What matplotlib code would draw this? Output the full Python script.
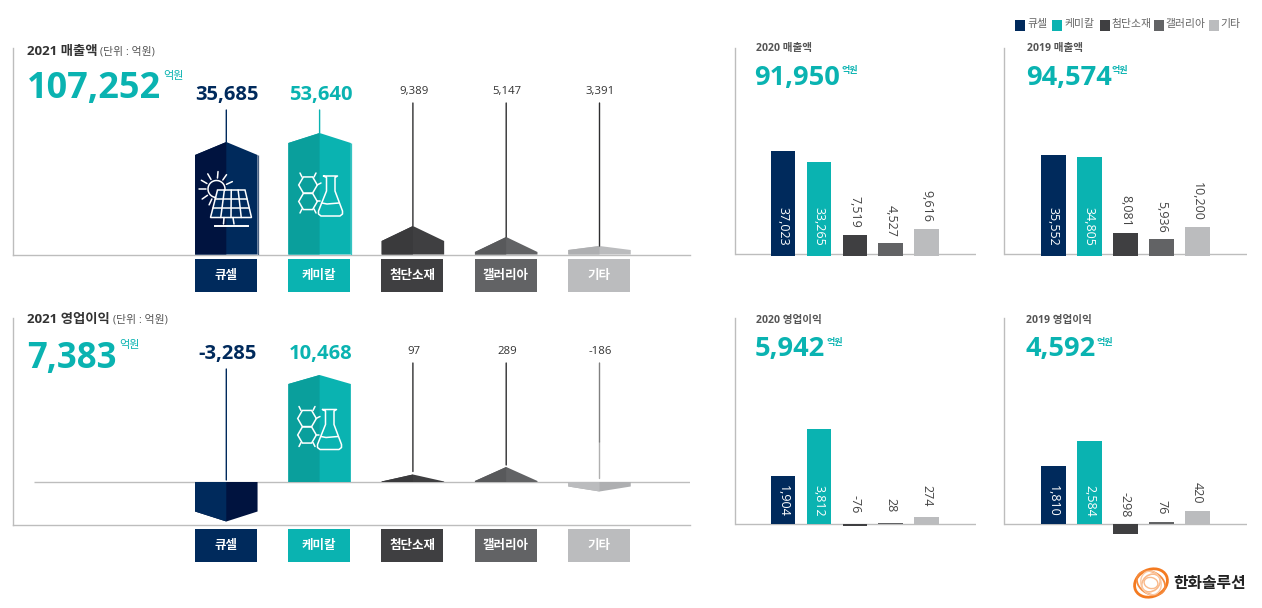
import numpy as np
import matplotlib
matplotlib.use('Agg')
from matplotlib import pyplot as plt
from matplotlib.patches import Ellipse, Rectangle, RegularPolygon

plt.rcParams['font.family'] = ['Open Sans', 'Noto Sans CJK KR', 'DejaVu Sans']

W, H = 1262, 608

categories = ['큐셀', '케미칼', '첨단소재', '갤러리아', '기타']

sales_2021 = [35685, 53640, 9389, 5147, 3391]
profit_2021 = [-3285, 10468, 97, 289, -186]
sales_2020 = [37023, 33265, 7519, 4527, 9616]
sales_2019 = [35552, 34805, 8081, 5936, 10200]
profit_2020 = [1904, 3812, -76, 28, 274]
profit_2019 = [1810, 2584, -298, 76, 420]

total_sales = ['107,252', '91,950', '94,574']
total_profit = ['7,383', '5,942', '4,592']

# the big 2021 columns are not linear, so their y axes use these breakpoints
sales_knots = [0, 3391, 5147, 9389, 35685, 53640, 120000]
sales_knot_px = [0, 8.5, 17.5, 28.5, 112.5, 121.5, 206.5]
profit_knots = [-5000, -3285, -186, 0, 97, 289, 10468, 20000]
profit_knot_px = [-42.5, -39.5, -9.5, 0, 7.5, 15, 107, 164]

NAVY, TEAL, DARK, GRAY, LIGHT = '#002a5c', '#0ab3b1', '#3f3f41', '#626365', '#bbbcbe'
colors = [NAVY, TEAL, DARK, GRAY, LIGHT]
shades = ['#00133f', '#0a9f9c', '#3a3a3c', '#58595b', '#aeafb1']
LINE = '#bdbdbd'
TEXT = '#333333'


def make_axes(left, right, top, bottom):
    ax = fig.add_axes([left / W, 1 - bottom / H, (right - left) / W, (bottom - top) / H])
    ax.patch.set_alpha(0)
    ax.set_xticks([])
    ax.set_yticks([])
    for side in ['top', 'right']:
        ax.spines[side].set_visible(False)
    for side in ['left', 'bottom']:
        ax.spines[side].set_color(LINE)
        ax.spines[side].set_linewidth(1.0)
    return ax


def big_panel(top, bottom, values, knots, knot_px, caps):
    ax = make_axes(12.5, 690, top, bottom)
    fwd = lambda v: np.interp(v, knots, knot_px)
    inv = lambda p: np.interp(p, knot_px, knots)
    ax.set_yscale('function', functions=(fwd, inv))
    ax.set_ylim(knots[0], knots[-1])
    ax.set_xlim((12.5 - 226.3) / 93.3, (690 - 226.3) / 93.3)
    ax.set_xticks([])
    ax.set_yticks([])
    ax.minorticks_off()
    half = 0.335
    for i, v in enumerate(values):
        sign = 1 if v > 0 else -1
        shoulder = inv(fwd(v) - sign * caps[i])
        c_left, c_right = (shades[i], colors[i]) if v > 0 else (colors[i], shades[i])
        # whole column first, then the left half on top so no seam shows
        ax.fill([i - half, i - half, i, i + half, i + half], [0, shoulder, v, shoulder, 0],
                color=c_right, lw=0, zorder=3)
        ax.fill([i - half, i - half, i, i], [0, shoulder, v, 0], color=c_left, lw=0, zorder=3)
    return ax, fwd, inv, half


def leader(ax, i, end, label_px, top, bottom, color):
    ax.annotate('', xy=(i, end), xycoords='data',
                xytext=(i, (bottom - label_px) / (bottom - top)),
                textcoords=('data', 'axes fraction'),
                arrowprops=dict(arrowstyle='-', color=color, lw=1.0, shrinkA=0, shrinkB=0),
                zorder=4)


def small_panel(left, right, top, bottom, center, step, values, ymin, ymax, line_y, gap, inside):
    ax = make_axes(left, right, top, bottom)
    ax.spines['bottom'].set_visible(False)
    ax.set_xlim((left - center) / step, (right - center) / step)
    ax.set_ylim(ymin, ymax)
    ax.spines['left'].set_bounds(line_y, ymax)
    ax.hlines(line_y, *ax.get_xlim(), color=LINE, lw=1.0, zorder=1)
    x = np.arange(len(values))
    ax.bar(x, values, width=0.68, color=colors, zorder=2)
    for i, v in enumerate(values):
        if i < 2:
            ax.annotate(f'{v:,}', xy=(i, 0), xytext=(0, inside), textcoords='offset pixels',
                        rotation=270, ha='center', va='bottom', color='white', fontsize=9,
                        fontweight='medium', zorder=5)
        else:
            ax.annotate(f'{v:,}', xy=(i, max(v, 0)), xytext=(0, gap), textcoords='offset pixels',
                        rotation=270, ha='center', va='bottom', color='#444444', fontsize=9, zorder=5)
    return ax


def solar_icon(ov, dx=0, dy=0):
    kw = dict(color='white', lw=1.1, solid_capstyle='round', zorder=12)
    sun_x, sun_y = 216.5 + dx, 189 + dy
    t = np.radians(np.linspace(-10, 265, 40))
    ov.plot(sun_x + 8.5 * np.cos(t), sun_y - 8.5 * np.sin(t), **kw)
    for a in [25, 55, 85, 120, 150, 180, 215, 245]:
        r = np.radians(a)
        ov.plot([sun_x + 11 * np.cos(r), sun_x + 17.5 * np.cos(r)],
                [sun_y - 11 * np.sin(r), sun_y - 17.5 * np.sin(r)], **kw)
    # panel frame
    ty, by = 190 + dy, 217.5 + dy
    tl, tr, bl, br = 217.5 + dx, 245 + dx, 210.5 + dx, 251.5 + dx
    ov.fill([tl, tr, br, bl], [ty, ty, by, by], facecolor=NAVY, edgecolor='white', lw=1.1, zorder=11)
    for f in [0.25, 0.5, 0.75]:
        ov.plot([tl + (tr - tl) * f, bl + (br - bl) * f], [ty, by], **kw)
    for f in [1 / 3, 2 / 3]:
        y = ty + (by - ty) * f
        ov.plot([tl + (bl - tl) * f, tr + (br - tr) * f], [y, y], **kw)
    ov.plot([224 + dx, 223.5 + dx], [by, 224 + dy], **kw)
    ov.plot([233 + dx, 234 + dx], [by, 224 + dy], **kw)
    ov.plot([215 + dx, 248 + dx], [225.5 + dy, 225.5 + dy], color='white', lw=1.4, zorder=12)


def chem_icon(ov, dx=0, dy=0):
    kw = dict(color='white', lw=1.1, zorder=12, solid_capstyle='round')
    for cy in [185, 201.5]:
        ov.add_patch(RegularPolygon((308 + dx, cy + dy), 6, radius=9.3, orientation=np.pi / 2,
                                    fill=False, edgecolor='white', lw=1.1, zorder=12))
    for x0, y0, x1, y1 in [(302, 177, 300, 173), (314, 177, 316, 173), (317, 185, 321, 183),
                           (302, 209, 300, 213), (314, 209, 316, 213), (317, 201, 320, 201)]:
        ov.plot([x0 + dx, x1 + dx], [y0 + dy, y1 + dy], **kw)
    # flask outline
    fx = np.array([323.5, 337.5, 335, 335, 342.5, 342.5, 340, 321, 318.5, 318.5, 326.5, 326.5, 323.5]) + dx
    fy = np.array([176, 176, 177.5, 191, 211, 214, 216, 216, 214, 211, 191, 177.5, 176]) + dy
    ov.plot(fx, fy, **kw)
    ov.plot(np.array([322, 327, 333, 339]) + dx, np.array([203, 204, 203.5, 203]) + dy, **kw)


fig = plt.figure(figsize=(W / 100, H / 100), dpi=100, facecolor='white')

# 2021 sales
caps = [13, 10, 15, 15, 4]
ax, fwd, inv, half = big_panel(48, 254.5, sales_2021, sales_knots, sales_knot_px, caps)
for i, v in enumerate(sales_2021):
    leader(ax, i, v, 110 if i < 2 else 103, 48, 254.5, colors[i] if i < 2 else '#2e2e30')
ax.vlines(0 + half, 0, inv(fwd(sales_2021[0]) - caps[0]), color='#4a6080', lw=0.9, zorder=4)
ax.vlines(1 + half, 0, inv(fwd(sales_2021[1]) - caps[1]), color='#35c4c2', lw=0.9, zorder=4)

# 2021 operating profit
caps = [10, 9, 7, 14, 5]
ax, fwd, inv, half = big_panel(318, 524.5, profit_2021, profit_knots, profit_knot_px, caps)
ax.hlines(0, (34 - 226.3) / 93.3, ax.get_xlim()[1], color=LINE, lw=1.0, zorder=2)
leader(ax, 0, inv(2), 369, 318, 524.5, NAVY)
leader(ax, 2, inv(fwd(profit_2021[2]) + 3), 363, 318, 524.5, '#2e2e30')
leader(ax, 3, inv(fwd(profit_2021[3]) + 2), 363, 318, 524.5, '#2e2e30')
leader(ax, 4, inv(3.5), 442, 318, 524.5, '#b0b0b0')
leader(ax, 4, inv(40), 363, 318, 524.5, '#808080')

# prior years
small_panel(734.5, 975.5, 48, 256, 783, 35.9, sales_2020, 0, 73240, 600, 6.5, 10)
small_panel(1004.4, 1247, 48, 256, 1053.5, 36, sales_2019, 0, 73240, 600, 6.5, 10)
small_panel(734.5, 975.5, 318, 536, 783, 35.9, profit_2020, -480, 8252, 0, 11, 7)
small_panel(1004.4, 1247, 318, 536, 1053.5, 36, profit_2019, -373, 6407, 0, 7, 7)

# everything else sits on an overlay measured in pixels from the top left
ov = fig.add_axes([0, 0, 1, 1], zorder=10)
ov.set_xlim(0, W)
ov.set_ylim(H, 0)
ov.axis('off')
ov.patch.set_alpha(0)

# panel headings
ov.text(27, 51, '2021 매출액', fontsize=9.6, fontweight='bold', color=TEXT, va='center')
ov.text(100, 52, '(단위 : 억원)', fontsize=7.8, color='#555555', va='center')
ov.text(27, 320, '2021 영업이익', fontsize=9.6, fontweight='bold', color=TEXT, va='center')
ov.text(113, 320.5, '(단위 : 억원)', fontsize=7.8, color='#555555', va='center')
ov.text(27, 89, total_sales[0], fontsize=26, fontweight='bold', color=TEAL, va='center')
ov.text(163, 77, '억원', fontsize=8, color=TEAL, va='center')
ov.text(27, 359, total_profit[0], fontsize=25, fontweight='bold', color=TEAL, va='center')
ov.text(119, 345.5, '억원', fontsize=8, color=TEAL, va='center')

small_heads = [(755.5, 49, '2020 매출액', total_sales[1], 842),
               (1027, 48.5, '2019 매출액', total_sales[2], 1112),
               (755.5, 320, '2020 영업이익', total_profit[1], 827),
               (1026, 320, '2019 영업이익', total_profit[2], 1097)]
for x, y, head, total, unit_x in small_heads:
    ov.text(x, y, head, fontsize=7.6, fontweight='bold', color='#555555', va='center')
    ov.text(x - 1, y + 29, total, fontsize=19.6, fontweight='bold', color=TEAL, va='center')
    ov.text(unit_x, y + 22, '억원', fontsize=6.5, fontweight='bold', color=TEAL, va='center')

# values above the 2021 columns
for y_big, y_small, values in [(95, 91.5, sales_2021), (353.5, 351.5, profit_2021)]:
    for i, v in enumerate(values):
        cx = 226.3 + 93.3 * i
        if i < 2:
            ov.text(cx + 1, y_big, f'{v:,}', fontsize=14.5, fontweight='bold', color=colors[i],
                    ha='center', va='center')
        else:
            ov.text(cx + 1, y_small, f'{v:,}', fontsize=8.2, color=TEXT, ha='center', va='center')

# category boxes under the columns
for top in [258.5, 528.5]:
    for i, name in enumerate(categories):
        x0 = 195 + 93.2 * i
        ov.add_patch(Rectangle((x0, top), 62, 33, color=colors[i], lw=0))
        ov.text(x0 + 31, top + 16.5, name, fontsize=9, fontweight='bold', color='white',
                ha='center', va='center')

solar_icon(ov)
chem_icon(ov)
chem_icon(ov, -1, 233.5)

# legend
legend_x = [(1015, 1027.5), (1052, 1064), (1099.5, 1111), (1154, 1165), (1209, 1220)]
for (sx, tx), name, c in zip(legend_x, categories, colors):
    ov.add_patch(Rectangle((sx, 20), 10, 11, color=c, lw=0))
    ov.text(tx, 25, name, fontsize=7.8, color='#666666', va='center')

# logo
for w, h, ang, c, lw in [(34, 27, -25, '#f47a20', 2.0), (30, 22, 30, '#f58a3c', 1.3),
                         (20, 16, -40, '#f9b98a', 1.2), (24, 20, 70, '#fbc9a4', 1.0),
                         (14, 11, 15, '#f9b98a', 1.0)]:
    ov.add_patch(Ellipse((1151, 583), w, h, angle=ang, fill=False, edgecolor=c, lw=lw))
ov.text(1173, 584, '한화솔루션', fontsize=11.4, fontweight='bold', color='#222222', va='center')

fig.savefig('out.png', dpi=100)
